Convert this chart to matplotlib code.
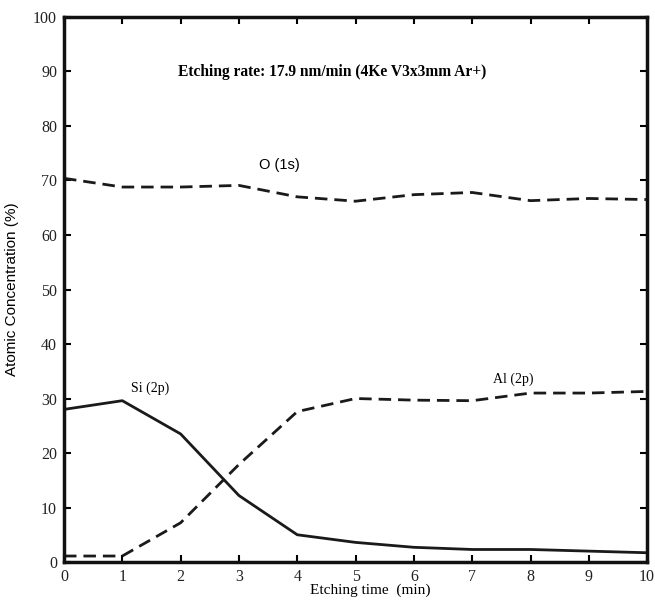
import matplotlib
matplotlib.use("Agg")
import matplotlib.pyplot as plt
import numpy as np

# etching time (min)
t = np.arange(0, 11)

# atomic concentration (%)
o_1s = [70.4, 68.8, 68.8, 69.1, 67.0, 66.2, 67.4, 67.8, 66.3, 66.7, 66.5]
si_2p = [28.0, 29.6, 23.5, 12.2, 5.0, 3.6, 2.7, 2.3, 2.3, 2.0, 1.7]
al_2p = [1.1, 1.1, 7.2, 17.9, 27.6, 30.0, 29.7, 29.6, 31.0, 31.0, 31.3]

serif = "Liberation Serif"
sans = "Liberation Sans"

fig = plt.figure(figsize=(6.55, 6.0), dpi=100)
ax = fig.add_axes([0.0977, 0.0633, 0.8903, 0.9084])

dash = (0, (4.5, 2.5))
ax.plot(t, o_1s, color="#1a1a1a", lw=2.0, linestyle=dash)
ax.plot(t, al_2p, color="#1a1a1a", lw=2.0, linestyle=dash)
ax.plot(t, si_2p, color="#1a1a1a", lw=2.0, linestyle="-")

ax.set_xlim(0, 10)
ax.set_ylim(0, 100)
ax.set_xticks(range(0, 11))
ax.set_yticks(range(0, 101, 10))
ax.tick_params(direction="in", length=5, width=1.5, top=True, right=True,
               labelsize=11.5, pad=5)
for lab in ax.get_xticklabels() + ax.get_yticklabels():
    lab.set_fontfamily(serif)
    lab.set_color("#222222")
for sp in ax.spines.values():
    sp.set_linewidth(2.5)
    sp.set_color("#111111")

ax.set_ylabel("Atomic Concentration (%)", fontfamily=sans, fontsize=11)
ax.yaxis.set_label_coords(-0.077, 0.5)
ax.set_xlabel("Etching time  (min)", fontfamily=serif, fontsize=11, va="center")
ax.xaxis.set_label_coords(0.525, -0.052)

ax.text(4.6, 89.9, "Etching rate: 17.9 nm/min (4Ke V3x3mm Ar+)", fontfamily=serif,
        fontweight="bold", fontsize=11.2, ha="center", va="center")
ax.text(3.69, 72.8, "O (1s)", fontfamily=sans, fontsize=10.5, ha="center", va="center")
ax.text(1.47, 31.9, "Si (2p)", fontfamily=serif, fontsize=10, ha="center", va="center")
ax.text(7.7, 33.5, "Al (2p)", fontfamily=serif, fontsize=10, ha="center", va="center")

fig.savefig("out.png", dpi=100)
